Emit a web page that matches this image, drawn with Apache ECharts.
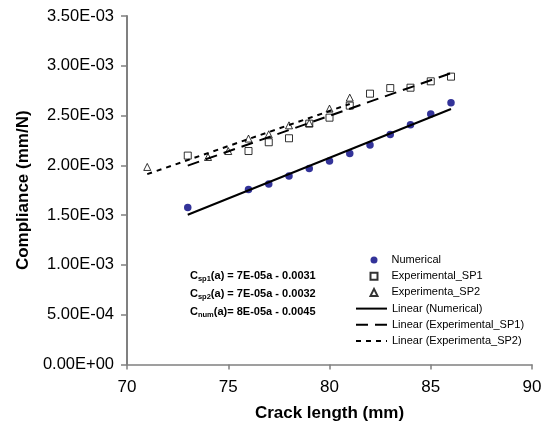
<!DOCTYPE html>
<html>
<head>
<meta charset="utf-8">
<script src="https://cdn.jsdelivr.net/npm/echarts@6/dist/echarts.min.js"></script>
<style>
  html, body { margin: 0; padding: 0; background: #fff; }
  #main { width: 550px; height: 432px; }
</style>
</head>
<body>
<div id="main"></div>
<script>
// crack length (mm)
var numX = [73, 76, 77, 78, 79, 80, 81, 82, 83, 84, 85, 86];
var sp1X = [73, 76, 77, 78, 79, 80, 81, 82, 83, 84, 85, 86];
var sp2X = [71, 74, 75, 76, 77, 78, 79, 80, 81];
// compliance (mm/N)
var numY = [1.577e-3, 1.757e-3, 1.813e-3, 1.894e-3, 1.968e-3, 2.044e-3, 2.118e-3, 2.205e-3, 2.309e-3, 2.409e-3, 2.516e-3, 2.630e-3];
var sp1Y = [2.098e-3, 2.144e-3, 2.232e-3, 2.272e-3, 2.419e-3, 2.479e-3, 2.600e-3, 2.720e-3, 2.776e-3, 2.780e-3, 2.844e-3, 2.891e-3];
var sp2Y = [1.984e-3, 2.084e-3, 2.144e-3, 2.269e-3, 2.312e-3, 2.402e-3, 2.425e-3, 2.570e-3, 2.680e-3];

var seriesNames = ['Numerical', 'Experimental_SP1', 'Experimenta_SP2'];
var trendNames = ['Linear (Numerical)', 'Linear (Experimental_SP1)', 'Linear (Experimenta_SP2)'];
// fit equations as printed on the chart: [subscript, rest]
var equations = [
  ['sp1', '(a) = 7E-05a - 0.0031'],
  ['sp2', '(a) = 7E-05a - 0.0032'],
  ['num', '(a)= 8E-05a - 0.0045']
];

function pairs(xs, ys) {
  return xs.map(function (x, i) { return [x, ys[i]]; });
}

// least squares line over the data range, like an Excel trendline
function trend(xs, ys) {
  var n = xs.length, mx = 0, my = 0;
  for (var i = 0; i < n; i++) { mx += xs[i]; my += ys[i]; }
  mx /= n; my /= n;
  var sxx = 0, sxy = 0;
  for (i = 0; i < n; i++) {
    sxx += (xs[i] - mx) * (xs[i] - mx);
    sxy += (xs[i] - mx) * (ys[i] - my);
  }
  var b = sxy / sxx, a = my - b * mx;
  var x0 = Math.min.apply(null, xs), x1 = Math.max.apply(null, xs);
  return [[x0, a + b * x0], [x1, a + b * x1]];
}

function sci(v) {
  if (Math.abs(v) < 1e-12) return '0.00E+00';
  var e = Math.floor(Math.log10(Math.abs(v)) + 1e-9);
  var m = (v / Math.pow(10, e)).toFixed(2);
  return m + 'E' + (e < 0 ? '-' : '+') + String(Math.abs(e)).padStart(2, '0');
}

var myChart = echarts.init(document.getElementById('main'));

var font = 'Liberation Sans, Arial, sans-serif';

var eqGraphics = equations.map(function (eq, i) {
  return {
    type: 'text',
    left: 190,
    top: 270 + i * 18,
    style: {
      text: '{m|C}{s|' + eq[0] + '}{m|' + eq[1] + '}',
      fontFamily: font,
      rich: {
        m: { fontSize: 11, fontWeight: 'bold', fontFamily: font, lineHeight: 14, verticalAlign: 'middle', fill: '#000' },
        s: { fontSize: 7.5, fontWeight: 'bold', fontFamily: font, lineHeight: 8, verticalAlign: 'bottom', fill: '#000' }
      }
    }
  };
});

var legendText = { fontSize: 11, color: '#000', lineHeight: 16, fontFamily: font };

var option = {
  animation: false,
  backgroundColor: '#fff',
  textStyle: { fontFamily: font },
  grid: { left: 127, right: 18, top: 16, bottom: 67.5 },
  legend: [
    {
      // marker entries
      orient: 'vertical',
      left: 364.5,
      top: 247,
      itemWidth: 7,
      itemHeight: 7,
      itemGap: 0.2,
      selectedMode: false,
      textStyle: Object.assign({ padding: [0, 0, 0, 9] }, legendText),
      data: seriesNames
    },
    {
      // trendline entries
      orient: 'vertical',
      left: 350,
      top: 295.6,
      itemWidth: 31,
      itemHeight: 7,
      itemGap: 0.2,
      selectedMode: false,
      textStyle: legendText,
      data: trendNames.map(function (n) {
        return { name: n, itemStyle: { opacity: 0, color: 'rgba(0,0,0,0)', borderWidth: 0 } };
      })
    }
  ],
  xAxis: {
    type: 'value',
    min: 70, max: 90, interval: 5,
    name: 'Crack length (mm)',
    nameLocation: 'middle',
    nameGap: 40,
    nameTextStyle: { fontSize: 17, fontWeight: 'bold', color: '#000', fontFamily: font },
    axisLine: { lineStyle: { color: '#808080', width: 1.5 } },
    axisTick: { length: 5, lineStyle: { color: '#808080', width: 1.5 } },
    axisLabel: { fontSize: 17, color: '#000', margin: 14, fontFamily: font },
    splitLine: { show: false }
  },
  yAxis: {
    type: 'value',
    min: 0, max: 0.0035, interval: 0.0005,
    name: 'Compliance (mm/N)',
    nameLocation: 'middle',
    nameRotate: 90,
    nameGap: 94,
    nameTextStyle: { fontSize: 17, fontWeight: 'bold', color: '#000', fontFamily: font },
    axisLine: { show: true, lineStyle: { color: '#808080', width: 2 } },
    axisTick: { show: true, length: 6, lineStyle: { color: '#808080', width: 1.5 } },
    axisLabel: { fontSize: 16.5, color: '#000', margin: 13, fontFamily: font, formatter: sci },
    splitLine: { show: false }
  },
  graphic: eqGraphics,
  series: [
    {
      name: seriesNames[0], type: 'scatter', symbol: 'circle', symbolSize: 7.5,
      itemStyle: { color: '#000080' },
      data: pairs(numX, numY), z: 3
    },
    {
      name: seriesNames[1], type: 'scatter', symbol: 'rect', symbolSize: 7,
      itemStyle: { color: '#fff', borderColor: '#000', borderWidth: 1 },
      data: pairs(sp1X, sp1Y), z: 3
    },
    {
      name: seriesNames[2], type: 'scatter', symbol: 'triangle', symbolSize: 7,
      itemStyle: { color: '#fff', borderColor: '#000', borderWidth: 1 },
      data: pairs(sp2X, sp2Y), z: 3
    },
    {
      name: trendNames[0], type: 'line', symbol: 'none',
      itemStyle: { color: '#000' },
      lineStyle: { color: '#000', width: 2, type: 'solid' },
      data: trend(numX, numY), z: 4
    },
    {
      name: trendNames[1], type: 'line', symbol: 'none',
      itemStyle: { color: '#000' },
      lineStyle: { color: '#000', width: 2, type: [12, 7] },
      data: trend(sp1X, sp1Y), z: 4
    },
    {
      name: trendNames[2], type: 'line', symbol: 'none',
      itemStyle: { color: '#000' },
      lineStyle: { color: '#000', width: 2, type: [5, 5] },
      data: trend(sp2X, sp2Y), z: 4
    }
  ]
};
myChart.setOption(option);
</script>
</body>
</html>
